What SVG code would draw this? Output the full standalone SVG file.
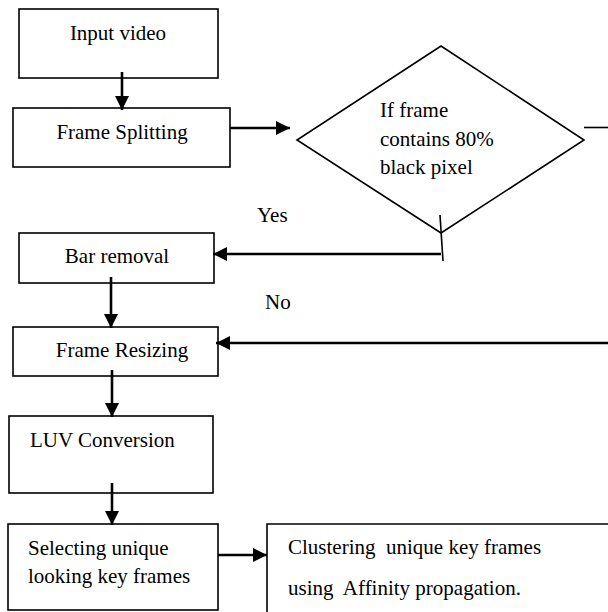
<svg xmlns="http://www.w3.org/2000/svg" width="608" height="612" viewBox="0 0 608 612">
<style>
.box{fill:#fff;stroke:#000;stroke-width:1.6}
.t{font-family:"Liberation Serif","Times New Roman",serif;font-size:21px;fill:#000}
.c{stroke:#000;stroke-width:2.6;fill:none}
.thin{stroke:#000;stroke-width:1.6;fill:none}
</style>
<defs>
<marker id="ah" markerUnits="userSpaceOnUse" viewBox="0 0 14 14" refX="14" refY="7" markerWidth="14" markerHeight="14" orient="auto">
<path d="M0,0 L14,7 L0,14 z" fill="#000"/>
</marker>
</defs>
<rect width="608" height="612" fill="#fff"/>
<g id="input">
<rect class="box" x="19" y="9" width="199" height="69"/>
<text class="t" x="118" y="40" text-anchor="middle">Input video</text>
</g>
<g id="split">
<rect class="box" x="13" y="108" width="217" height="59"/>
<text class="t" x="122" y="139" text-anchor="middle">Frame Splitting</text>
</g>
<g id="decision">
<polygon class="thin" points="441,46 584,140 441,233 297,140" fill="#fff"/>
<text class="t" x="380" y="117">If frame</text>
<text class="t" x="380" y="146">contains 80%</text>
<text class="t" x="380" y="174">black pixel</text>
</g>
<g id="bar">
<rect class="box" x="19" y="233" width="195" height="50"/>
<text class="t" x="117" y="263" text-anchor="middle">Bar removal</text>
</g>
<g id="resize">
<rect class="box" x="13" y="327" width="205" height="49"/>
<text class="t" x="122" y="357" text-anchor="middle">Frame Resizing</text>
</g>
<g id="luv">
<rect class="box" x="9" y="416" width="204" height="77"/>
<text class="t" x="30" y="447">LUV Conversion</text>
</g>
<g id="select">
<rect class="box" x="8" y="524" width="210" height="86"/>
<text class="t" x="28" y="555">Selecting unique</text>
<text class="t" x="28" y="583">looking key frames</text>
</g>
<g id="cluster">
<path class="box" d="M267,616 V524 H612"/>
<text class="t" x="288" y="554" xml:space="preserve">Clustering  unique key frames</text>
<text class="t" x="288" y="595" xml:space="preserve">using  Affinity propagation.</text>
</g>
<g id="connectors">
<line class="c" x1="122" y1="72" x2="122" y2="110" marker-end="url(#ah)"/>
<line class="c" x1="230" y1="128" x2="290" y2="128" marker-end="url(#ah)"/>
<line class="thin" x1="584" y1="127.5" x2="608" y2="127.5"/>
<line class="thin" x1="440" y1="215" x2="443" y2="261"/>
<line class="c" x1="441" y1="254" x2="213" y2="254" marker-end="url(#ah)"/>
<line class="c" x1="111" y1="277" x2="111" y2="328" marker-end="url(#ah)"/>
<line class="c" x1="608" y1="343" x2="216" y2="343" marker-end="url(#ah)"/>
<line class="c" x1="112" y1="370" x2="112" y2="417" marker-end="url(#ah)"/>
<line class="c" x1="112" y1="483" x2="112" y2="525" marker-end="url(#ah)"/>
<line class="c" x1="218" y1="555" x2="267" y2="555" marker-end="url(#ah)"/>
<text class="t" x="257" y="222">Yes</text>
<text class="t" x="265" y="309">No</text>
</g>
</svg>
